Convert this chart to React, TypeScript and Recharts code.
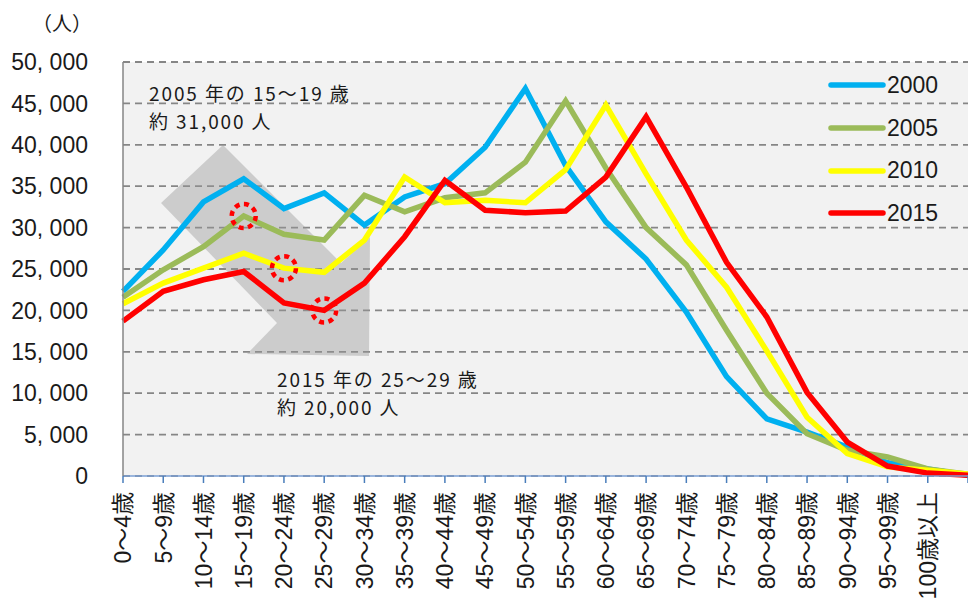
import React from "react"
import {
  CartesianGrid,
  Customized,
  Legend,
  Line,
  LineChart,
  ReferenceDot,
  XAxis,
  YAxis,
} from "recharts"

const ageGroups = [
  "0〜4歳", "5〜9歳", "10〜14歳", "15〜19歳", "20〜24歳", "25〜29歳",
  "30〜34歳", "35〜39歳", "40〜44歳", "45〜49歳", "50〜54歳", "55〜59歳",
  "60〜64歳", "65〜69歳", "70〜74歳", "75〜79歳", "80〜84歳", "85〜89歳",
  "90〜94歳", "95〜99歳", "100歳以上", "",
]

const pop2000 = [22300, 27300, 33100, 35900, 32300, 34200, 30300, 33700, 35300, 39700, 46800, 37500, 30700, 26200, 19800, 12000, 6900, 5300, 3500, 1600, 850, 100]
const pop2005 = [21600, 24900, 27700, 31400, 29200, 28500, 33900, 31900, 33600, 34200, 37900, 45300, 37200, 30000, 25500, 17600, 10000, 5100, 3100, 2300, 850, 200]
const pop2010 = [20800, 23300, 25100, 26900, 25100, 24600, 28500, 36100, 33000, 33300, 33000, 37000, 44800, 36500, 28500, 22800, 15100, 7100, 2700, 1100, 700, 250]
const pop2015 = [18700, 22300, 23700, 24700, 20900, 20000, 23300, 28900, 35700, 32100, 31800, 32000, 36100, 43400, 34900, 25800, 19200, 10100, 4100, 1200, 350, 100]

const yTicks = [0, 5000, 10000, 15000, 20000, 25000, 30000, 35000, 40000, 45000, 50000]

const series = [
  { key: "y2000", name: "2000", color: "#00b0f0" },
  { key: "y2005", name: "2005", color: "#9bbb59" },
  { key: "y2010", name: "2010", color: "#ffff00" },
  { key: "y2015", name: "2015", color: "#ff0000" },
]

const data = ageGroups.map((age, i) => ({
  age,
  y2000: pop2000[i],
  y2005: pop2005[i],
  y2010: pop2010[i],
  y2015: pop2015[i],
}))

const numFont = "'Liberation Sans', 'Noto Sans CJK JP', sans-serif"
const jpFont = "'Noto Sans CJK JP', sans-serif"

const fmt = (v: number) => (v === 0 ? "0" : v.toLocaleString("en-US").replace(",", ", "))

function YTick({ x, y, payload }: any) {
  return (
    <text x={x} y={y} dy="0.36em" textAnchor="end" fontSize={23} fill="#1a1a1a" fontFamily={numFont}>
      {fmt(payload.value)}
    </text>
  )
}

function XTick({ x, y, payload }: any) {
  return (
    <g transform={`translate(${x},${y})`}>
      <text
        transform="rotate(-90)"
        x={-7}
        y={0}
        dy="0.36em"
        textAnchor="end"
        fontSize={23}
        fill="#1a1a1a"
        fontFamily={numFont}
      >
        {payload.value}
      </text>
    </g>
  )
}

// gray arrow + notes drawn over the lines
function Notes() {
  return (
    <g>
      <polygon
        points="223,145 341,263 370,237 369,356 247,354 277,323 161,203"
        fill="#999999"
        fillOpacity={0.42}
      />
      <g fontFamily={jpFont} fontSize={19} fill="#1a1a1a" letterSpacing={1.9}>
        <text x={149} y={101}>2005 年の 15〜19 歳</text>
        <text x={149} y={129}>約 31,000 人</text>
        <text x={277} y={387}>2015 年の 25〜29 歳</text>
        <text x={277} y={415}>約 20,000 人</text>
      </g>
      <text x={62} y={31} textAnchor="middle" fontFamily={jpFont} fontSize={20} fill="#1a1a1a">
        （人）
      </text>
    </g>
  )
}

function LegendBox() {
  return (
    <div style={{ width: 140 }}>
      {series.map((s) => (
        <div key={s.key} style={{ display: "flex", alignItems: "center", height: 42.7 }}>
          <svg width={60} height={10}>
            <line x1={3} y1={5} x2={55} y2={5} stroke={s.color} strokeWidth={5.5} strokeLinecap="round" />
          </svg>
          <span style={{ fontFamily: numFont, fontSize: 23, color: "#1a1a1a", marginLeft: -1 }}>{s.name}</span>
        </div>
      ))}
    </div>
  )
}

export default function App() {
  return (
    <div style={{ position: "absolute", left: 0, top: 0, width: 968, height: 608, background: "#ffffff" }}>
      <LineChart width={968} height={608} data={data} margin={{ top: 62, right: 0, left: 0, bottom: 0 }}>
        <CartesianGrid
          vertical={false}
          stroke="#868686"
          strokeWidth={1.8}
          strokeDasharray="7 5"
          fill="#f2f2f2"
          fillOpacity={1}
        />
        <XAxis
          dataKey="age"
          interval={0}
          height={132}
          axisLine={{ stroke: "#7a9fd4", strokeWidth: 1.5 }}
          tickLine={{ stroke: "#4a7ebb", strokeWidth: 1.5 }}
          tickSize={7}
          tickMargin={2}
          tick={<XTick />}
        />
        <YAxis
          width={123}
          domain={[0, 50000]}
          ticks={yTicks}
          interval={0}
          axisLine={{ stroke: "#868686", strokeWidth: 1.5 }}
          tickLine={false}
          tickSize={0}
          tickMargin={35}
          tick={<YTick />}
        />
        {series.map((s) => (
          <Line
            key={s.key}
            dataKey={s.key}
            name={s.name}
            type="linear"
            stroke={s.color}
            strokeWidth={5.5}
            strokeLinejoin="miter"
            dot={false}
            activeDot={false}
            isAnimationActive={false}
          />
        ))}
        <Customized component={Notes} />
        <ReferenceDot x={ageGroups[3]} y={pop2005[3]} r={12} fill="none" stroke="#ff0000" strokeWidth={4.5} strokeDasharray="5 4.4" />
        <ReferenceDot x={ageGroups[4]} y={pop2010[4]} r={12} fill="none" stroke="#ff0000" strokeWidth={4.5} strokeDasharray="5 4.4" />
        <ReferenceDot x={ageGroups[5]} y={pop2015[5]} r={12} fill="none" stroke="#ff0000" strokeWidth={4.5} strokeDasharray="5 4.4" />
        <Legend
          layout="vertical"
          align="center"
          verticalAlign="middle"
          content={<LegendBox />}
          wrapperStyle={{ position: "absolute", left: 828, top: 64, width: 140 }}
        />
      </LineChart>
    </div>
  )
}
